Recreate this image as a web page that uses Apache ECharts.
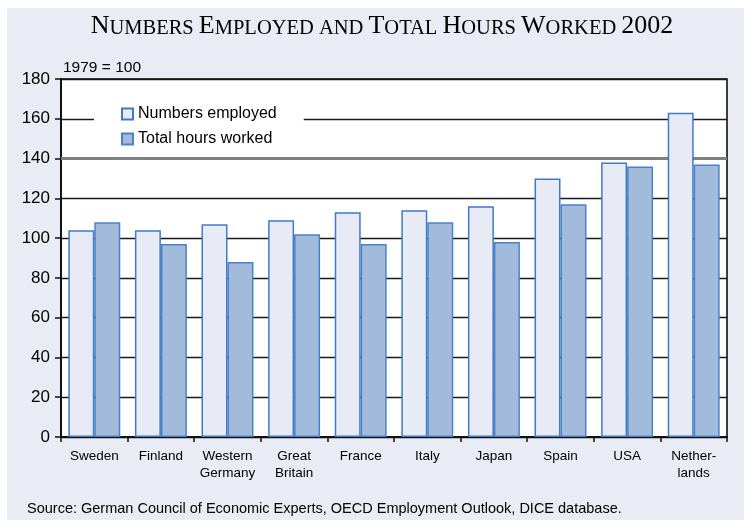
<!DOCTYPE html>
<html>
<head>
<meta charset="utf-8">
<script src="https://cdn.jsdelivr.net/npm/echarts@6/dist/echarts.min.js"></script>
<style>
html,body{margin:0;padding:0;background:#fff;}
#bg{position:absolute;left:7px;top:8px;width:737px;height:512px;background:#e9ebf5;}
#chart{position:absolute;left:0;top:0;width:744px;height:523px;}
</style>
</head>
<body>
<div id="bg"></div>
<div id="chart"></div>
<script>
const categories = ['Sweden', 'Finland', 'Western\nGermany', 'Great\nBritain', 'France', 'Italy', 'Japan', 'Spain', 'USA', 'Nether-\nlands'];
const numbersEmployed = [104, 104, 107, 109, 113, 114, 116, 130, 138, 163];
const totalHoursWorked = [108, 97, 88, 102, 97, 108, 98, 117, 136, 137];
const seriesNames = ['Numbers employed', 'Total hours worked'];
const yTicks = {min: 0, max: 180, interval: 20};
const highlightLine = 140;

const sans = 'Arial, "Liberation Sans", Helvetica, sans-serif';
const serif = '"Times New Roman", "Liberation Serif", serif';

const chart = echarts.init(document.getElementById('chart'), null, {renderer: 'canvas'});
chart.setOption({
  backgroundColor: 'transparent',
  animation: false,
  graphic: [
    {
      type: 'text', x: 382, y: 26,
      style: {
        text: '{b|N}{s|UMBERS }{b|E}{s|MPLOYED AND }{b|T}{s|OTAL }{b|H}{s|OURS }{b|W}{s|ORKED }{b|2002}',
        align: 'center', verticalAlign: 'middle',
        rich: {
          b: {fontFamily: serif, fontSize: 26, fill: '#000', verticalAlign: 'bottom'},
          s: {fontFamily: serif, fontSize: 20.5, fill: '#000', verticalAlign: 'bottom'}
        }
      }
    },
    {
      type: 'text', x: 63, y: 68,
      style: {text: '1979 = 100', fontFamily: sans, fontSize: 15.5, fill: '#000', verticalAlign: 'middle'}
    },
    {
      type: 'text', x: 27, y: 509,
      style: {text: 'Source: German Council of Economic Experts, OECD Employment Outlook, DICE database.', fontFamily: sans, fontSize: 14.5, fill: '#000', verticalAlign: 'middle'}
    }
  ],
  legend: {
    orient: 'vertical',
    left: 94, top: 95,
    padding: [11, 27, 6, 27],
    backgroundColor: '#fff',
    itemWidth: 11, itemHeight: 11, itemGap: 9,
    icon: 'rect',
    textStyle: {fontFamily: sans, fontSize: 16, color: '#000'},
    data: seriesNames
  },
  grid: {
    left: 61, right: 17, top: 79, bottom: 86,
    show: true, backgroundColor: '#fff', borderColor: '#000', borderWidth: 1.5
  },
  xAxis: {
    type: 'category',
    data: categories,
    axisLine: {lineStyle: {color: '#111', width: 2}},
    axisTick: {show: true, length: 5, lineStyle: {color: '#111', width: 1.5}},
    axisLabel: {interval: 0, fontFamily: sans, fontSize: 13.5, color: '#000', margin: 11, lineHeight: 17}
  },
  yAxis: {
    type: 'value',
    min: yTicks.min, max: yTicks.max, interval: yTicks.interval,
    axisLine: {show: true, lineStyle: {color: '#111', width: 2}},
    axisTick: {show: true, length: 6, lineStyle: {color: '#111', width: 1.5}},
    axisLabel: {fontFamily: sans, fontSize: 17, color: '#000', margin: 11},
    splitLine: {show: true, lineStyle: {color: '#1a1a1a', width: 1.3}}
  },
  series: [
    {
      name: seriesNames[0], type: 'bar', data: numbersEmployed,
      barCategoryGap: '22%', barGap: '0%',
      itemStyle: {color: '#e8ebf5', borderColor: '#3f7bc6', borderWidth: 1.5},
      markLine: {
        silent: true, symbol: 'none', z: 1,
        label: {show: false},
        lineStyle: {color: '#808080', width: 3, type: 'solid'},
        data: [{yAxis: highlightLine}]
      }
    },
    {
      name: seriesNames[1], type: 'bar', data: totalHoursWorked,
      barCategoryGap: '22%', barGap: '0%',
      itemStyle: {color: '#a3bbdb', borderColor: '#4a82c8', borderWidth: 1.5}
    }
  ]
});
</script>
</body>
</html>
